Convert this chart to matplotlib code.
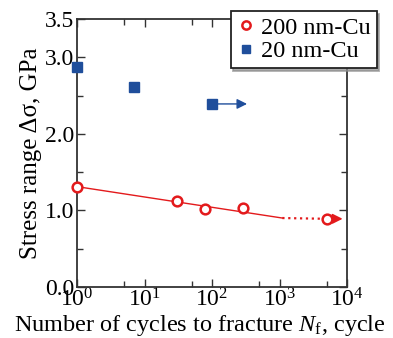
import matplotlib
matplotlib.use("Agg")
import matplotlib.pyplot as plt
from matplotlib.ticker import FixedLocator, NullFormatter

plt.rcParams['font.family'] = ['Liberation Serif', 'DejaVu Serif']
plt.rcParams['mathtext.fontset'] = 'custom'
plt.rcParams['mathtext.rm'] = 'Liberation Serif'
plt.rcParams['mathtext.it'] = 'Liberation Serif:italic'

# Data
cu200_N = [1, 30, 79, 290, 5000]
cu200_S = [1.31, 1.12, 1.02, 1.03, 0.89]
cu20_N = [1, 7, 100]
cu20_S = [2.87, 2.61, 2.39]
fit_N = [1, 1100]
fit_S = [1.31, 0.90]
ext_N = [1100, 5000]
ext_S = [0.90, 0.89]
arrow200 = ([5000, 8600], [0.89, 0.89])
arrow20 = ([100, 330], [2.39, 2.39])

red = '#e31a1c'
blue = '#1f4e9b'

fig = plt.figure(figsize=(3.93, 3.38), dpi=100)
ax = fig.add_axes([0.196, 0.151, 0.687, 0.793])

ax.plot(fit_N, fit_S, '-', color=red, lw=1.0)
ax.plot(ext_N, ext_S, ':', color=red, lw=1.6)
ax.annotate('', xy=(arrow200[0][1], arrow200[1][1]), xytext=(arrow200[0][0], arrow200[1][0]),
            arrowprops=dict(arrowstyle='-|>,head_length=0.6,head_width=0.3', color=red, lw=1.2,
                            shrinkA=5, shrinkB=0))
ax.annotate('', xy=(arrow20[0][1], arrow20[1][1]), xytext=(arrow20[0][0], arrow20[1][0]),
            arrowprops=dict(arrowstyle='-|>,head_length=0.6,head_width=0.3', color=blue, lw=1.0,
                            shrinkA=4, shrinkB=0))
ax.plot(cu200_N, cu200_S, 'o', mfc='white', mec=red, mew=1.8, ms=7, ls='none', label='200 nm-Cu',
        zorder=5, clip_on=False)
ax.plot(cu20_N, cu20_S, 's', color=blue, ms=7.5, ls='none', label='20 nm-Cu', zorder=5, clip_on=False)

ax.set_xscale('log')
ax.set_xlim(1, 1e4)
ax.set_ylim(0, 3.5)
ax.xaxis.set_major_locator(FixedLocator([1, 10, 100, 1000, 10000]))
ax.xaxis.set_minor_locator(FixedLocator([5, 50, 500, 5000]))
ax.xaxis.set_minor_formatter(NullFormatter())
ax.set_xticklabels([r'$\mathregular{10^{0}}$', r'$\mathregular{10^{1}}$', r'$\mathregular{10^{2}}$',
                    r'$\mathregular{10^{3}}$', r'$\mathregular{10^{4}}$'])
ax.yaxis.set_major_locator(FixedLocator([0, 1, 2, 3, 3.5]))
ax.yaxis.set_minor_locator(FixedLocator([0.5, 1.5, 2.5]))
ax.set_yticklabels(['0.0', '1.0', '2.0', '3.0', '3.5'])
ax.tick_params(which='both', direction='in', top=True, right=True, labelsize=17, color='#333333', width=1)
ax.tick_params(which='major', length=6)
ax.tick_params(axis='y', which='major', pad=2)
ax.tick_params(axis='x', which='major', pad=1)
ax.tick_params(which='minor', length=4)
for s in ax.spines.values():
    s.set_linewidth(1.3)
    s.set_color('#333333')

ax.set_xlabel(r'Number of cycles to fracture $N_\mathregular{f}$, cycle', fontsize=17.5, va='top')
ax.xaxis.set_label_coords(0.455, -0.097)
ax.set_ylabel('Stress range Δσ, GPa', fontsize=18, labelpad=2)

leg = ax.legend(loc='upper right', bbox_to_anchor=(1.11, 1.03), fontsize=17.5, frameon=True,
                fancybox=False, shadow={'color': '0.55', 'alpha': 0.7}, handletextpad=0.2,
                borderpad=0.25, labelspacing=0.05,
                handlelength=0.8, borderaxespad=0, markerscale=0.85, framealpha=1)
leg.get_frame().set_edgecolor('#222222')
leg.get_frame().set_linewidth(1.3)
leg.set_zorder(10)

fig.savefig('out.png', dpi=100)
